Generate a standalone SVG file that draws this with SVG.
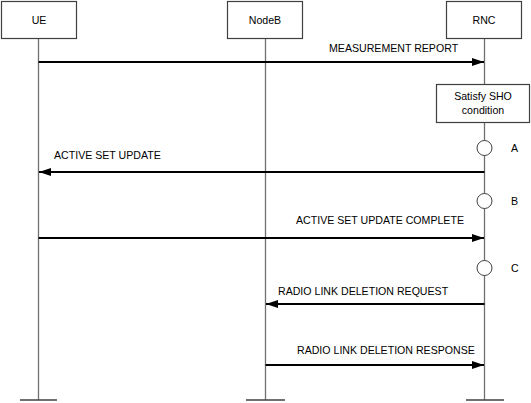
<svg xmlns="http://www.w3.org/2000/svg" width="531" height="403" viewBox="0 0 531 403">
<style>
text{font-family:"Liberation Sans",Arial,sans-serif;font-size:10.6px;fill:#000}
.box{fill:#fff;stroke:#404040;stroke-width:1.2}
.life{stroke:#707070;stroke-width:1.3;fill:none}
.foot{stroke:#404040;stroke-width:1.5}
.msg{stroke:#000;stroke-width:2;fill:none}
.pt{fill:#fff;stroke:#404040;stroke-width:1}
</style>
<defs>
<marker id="ah" viewBox="0 0 12 8" refX="12" refY="4" markerWidth="12" markerHeight="8" markerUnits="userSpaceOnUse" orient="auto">
<path d="M0,0 L12,4 L0,8 Z" fill="#000"/>
</marker>
</defs>
<rect width="531" height="403" fill="#fff"/>
<g id="UE">
<line class="life" x1="38.5" y1="39" x2="38.5" y2="400"/>
<line class="foot" x1="20" y1="400" x2="57" y2="400"/>
<rect class="box" x="1.5" y="1.5" width="75" height="37"/>
<text x="39" y="24" text-anchor="middle">UE</text>
</g>
<g id="NodeB">
<line class="life" x1="265.5" y1="39" x2="265.5" y2="400"/>
<line class="foot" x1="246" y1="400" x2="285" y2="400"/>
<rect class="box" x="227.5" y="1.5" width="75" height="37"/>
<text x="265" y="24" text-anchor="middle">NodeB</text>
</g>
<g id="RNC">
<line class="life" x1="484.5" y1="39" x2="484.5" y2="400"/>
<line class="foot" x1="466" y1="400" x2="504" y2="400"/>
<rect class="box" x="446.5" y="1.5" width="75" height="37"/>
<text x="484" y="24" text-anchor="middle">RNC</text>
</g>
<g id="SHO">
<rect class="box" x="436.5" y="84.5" width="93" height="38"/>
<text x="483" y="100" text-anchor="middle">Satisfy SHO</text>
<text x="483" y="114" text-anchor="middle">condition</text>
</g>
<g id="A">
<circle class="pt" cx="484.5" cy="148" r="7.5"/>
<text x="511" y="152">A</text>
</g>
<g id="B">
<circle class="pt" cx="484.5" cy="201" r="7.5"/>
<text x="511" y="205">B</text>
</g>
<g id="C">
<circle class="pt" cx="484.5" cy="268" r="7.5"/>
<text x="511" y="272">C</text>
</g>
<g id="connectors">
<line class="msg" x1="38.5" y1="62" x2="484" y2="62" marker-end="url(#ah)"/>
<text x="329" y="52">MEASUREMENT REPORT</text>
<line class="msg" x1="484.5" y1="172" x2="39" y2="172" marker-end="url(#ah)"/>
<text x="54" y="159">ACTIVE SET UPDATE</text>
<line class="msg" x1="38.5" y1="238" x2="484" y2="238" marker-end="url(#ah)"/>
<text x="296" y="224">ACTIVE SET UPDATE COMPLETE</text>
<line class="msg" x1="484.5" y1="304" x2="266" y2="304" marker-end="url(#ah)"/>
<text x="278" y="295">RADIO LINK DELETION REQUEST</text>
<line class="msg" x1="265.5" y1="365" x2="484" y2="365" marker-end="url(#ah)"/>
<text x="297" y="354">RADIO LINK DELETION RESPONSE</text>
</g>
</svg>
